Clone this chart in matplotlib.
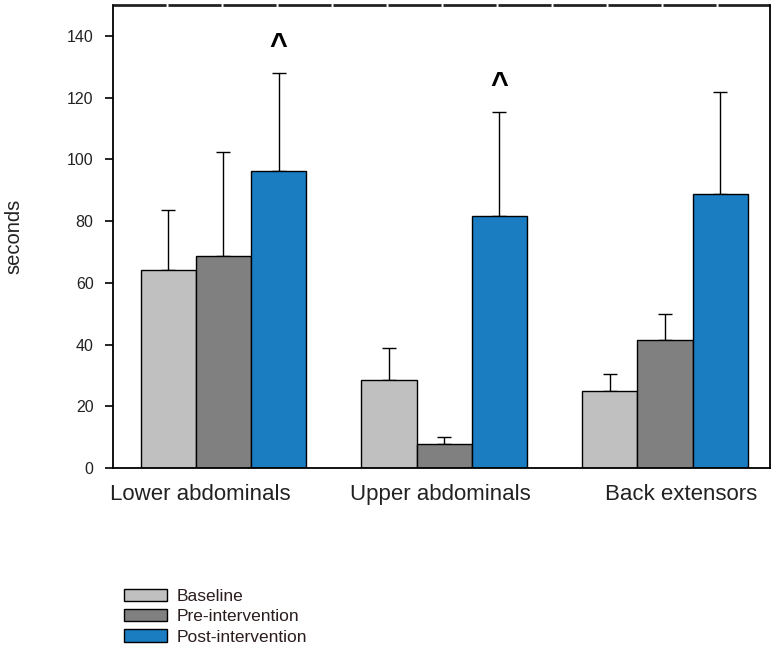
import numpy as np
import matplotlib.pyplot as plt
import matplotlib.transforms as mtransforms

groups = ["Lower abdominals", "Upper abdominals", "Back extensors"]
series = ["Baseline", "Pre-intervention", "Post-intervention"]
baseline = [64.2, 28.5, 25.0]
baseline_err = [19.4, 10.4, 5.5]
pre = [68.7, 7.8, 41.5]
pre_err = [33.7, 2.4, 8.4]
post = [96.2, 81.7, 88.8]
post_err = [31.8, 33.7, 33.0]
colors = ["#c0c0c0", "#808080", "#1a7dc2"]
marks = ["^", "^", ""]

fig = plt.figure(figsize=(7.81, 6.48), dpi=100)
ax = fig.add_axes([0.1447, 0.2778, 0.8412, 0.7145])

x = np.arange(len(groups))
w = 0.25
vals = [baseline, pre, post]
errs = [baseline_err, pre_err, post_err]
for i in range(3):
    pos = x + (i - 1) * w
    ax.bar(pos, vals[i], w, color=colors[i], edgecolor="black", linewidth=1.0,
           label=series[i], zorder=2)
    ax.errorbar(pos, vals[i], yerr=[np.zeros(3), errs[i]], fmt="none",
                ecolor="black", elinewidth=1.0, capsize=5, capthick=1.0, zorder=1)

for xi, m, v, e in zip(x, marks, post, post_err):
    if m:
        ax.annotate(m, (xi + w, v + e), xytext=(0, 13), textcoords="offset points",
                    ha="center", va="baseline", fontsize=22, fontweight="bold",
                    family="Liberation Sans")

ax.set_xlim(-0.5, 2.475)
ax.set_ylim(0, 150)
ax.set_yticks(np.arange(0, 141, 20))
ax.set_xticks(x)
ax.set_xticklabels([])
ax.tick_params(axis="x", length=0)
ax.tick_params(axis="y", direction="out", length=6, width=1.2, labelsize=11.5,
               labelcolor="#222222", pad=8)
for lab in ax.get_yticklabels():
    lab.set_family("Liberation Sans")

# category labels, nudged like in the original figure
nudge = [-16.5, -3, 11.5]
for xi, g, dx in zip(x, groups, nudge):
    tr = ax.get_xaxis_transform() + mtransforms.ScaledTranslation(dx / 72, 0, fig.dpi_scale_trans)
    ax.text(xi, -0.058, g, transform=tr, ha="center", va="center",
            fontsize=16, family="Liberation Sans", color="#222222")

ax.set_ylabel("seconds", fontsize=14.5, family="Liberation Sans", color="#222222")
ax.yaxis.set_label_coords(-0.137, 0.5)

for s in ["left", "right", "bottom"]:
    ax.spines[s].set_linewidth(1.3)
ax.spines["top"].set_visible(False)
ax.axhline(150, color="#222222", linewidth=2.0, linestyle=(0, (19.1, 0.7)), clip_on=False)

fig.legend(loc="upper left", bbox_to_anchor=(115 / 781, 1 - 580 / 648),
           bbox_transform=fig.transFigure, frameon=False, borderpad=0,
           handlelength=2.5, handleheight=0.7, handletextpad=0.55, labelspacing=0.3,
           labelcolor="#2b1d1d", prop={"family": "Liberation Sans", "size": 12.5})

fig.savefig("out.png", dpi=100)
